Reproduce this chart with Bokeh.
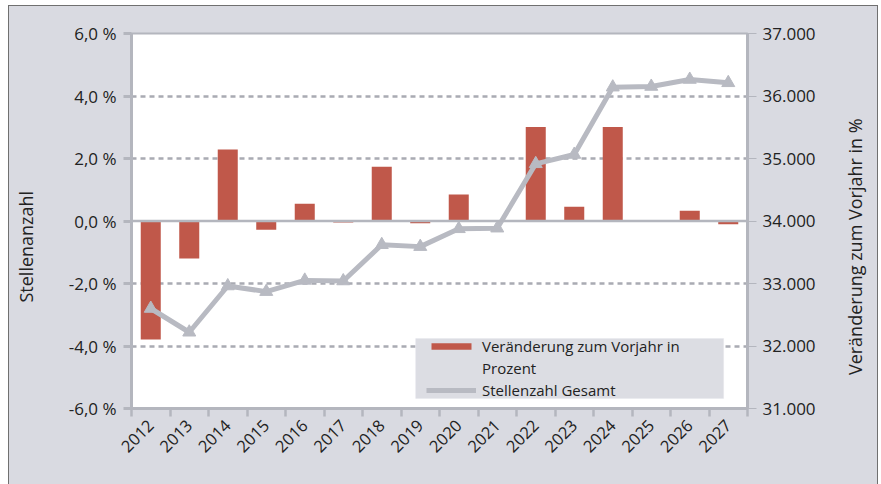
from bokeh.plotting import figure
from bokeh.models import (Range1d, LinearAxis, FixedTicker, Span, Legend, LegendItem,
                          ColumnDataSource, BoxAnnotation)
from bokeh.layouts import row
from bokeh.embed import file_html
from bokeh.resources import INLINE
import math

# ---------------- data ----------------
years = ["2012", "2013", "2014", "2015", "2016", "2017", "2018", "2019",
         "2020", "2021", "2022", "2023", "2024", "2025", "2026", "2027"]
change_pct = [-3.79, -1.20, 2.29, -0.28, 0.55, -0.05, 1.74, -0.07,
              0.85, -0.03, 3.01, 0.46, 3.01, 0.03, 0.33, -0.10]
positions_total = [32600, 32220, 32960, 32870, 33050, 33040, 33620, 33590,
                   33875, 33885, 34915, 35064, 36141, 36152, 36264, 36211]

left_ticks = [-6, -4, -2, 0, 2, 4, 6]
left_tick_labels = ["-6,0 %", "-4,0 %", "-2,0 %", "0,0 %", "2,0 %", "4,0 %", "6,0 %"]
right_ticks = [31000, 32000, 33000, 34000, 35000, 36000, 37000]
right_tick_labels = ["31.000", "32.000", "33.000", "34.000", "35.000", "36.000", "37.000"]

left_title = "Stellenanzahl"
right_title = "Veränderung zum Vorjahr in %"
bar_label_1 = "Veränderung zum Vorjahr in"
bar_label_2 = "Prozent"
line_label = "Stellenzahl Gesamt"

# ---------------- styles ----------------
BG = "#D9DAE1"
BAR = "#C0584A"
LINE = "#B8BAC2"
AXIS = "#B4B6BE"
GRID = "#A9ABB3"
TXT = "#222222"
FONT = "Open Sans"
PAD = "\u00a0" * 11   # shifts the centred axis titles slightly downwards

n = len(years)
centers = [i + 0.5 for i in range(n)]
bounds = [float(i) for i in range(n + 1)]

src = ColumnDataSource(dict(x=centers, pct=change_pct, tot=positions_total, year=years))

p = figure(width=830, height=478, output_backend="svg", toolbar_location=None,
           x_range=Range1d(0, n), y_range=Range1d(-6, 6),
           min_border_left=122, min_border_right=92, min_border_top=27,
           min_border_bottom=76, background_fill_color="white",
           border_fill_color=BG, outline_line_color=AXIS, outline_line_width=2)
p.extra_y_ranges = {"tot": Range1d(31000, 37000)}

# grid
p.xgrid.visible = False
p.ygrid.ticker = FixedTicker(ticks=[-4, -2, 2, 4])
p.ygrid.grid_line_color = GRID
p.ygrid.grid_line_width = 2.5
p.ygrid.grid_line_dash = "5 4"
p.add_layout(Span(location=0, dimension="width", line_color=AXIS, line_width=2.5))

# bars
bars = p.vbar(x="x", top="pct", bottom=0, width=0.52, source=src,
              fill_color=BAR, line_color=None)

# line
ln = p.line(x="x", y="tot", source=src, y_range_name="tot",
            line_color=LINE, line_width=5)
mk = p.scatter(x="x", y="tot", source=src, y_range_name="tot", marker="triangle",
               size=13, fill_color=LINE, line_color=LINE)
dummy = p.scatter(x=[], y=[], alpha=0)

# axes styling
def style_axis(ax, size):
    ax.major_label_text_font = FONT
    ax.major_label_text_font_size = size
    ax.major_label_text_color = TXT
    ax.axis_line_color = AXIS
    ax.axis_line_width = 3
    ax.axis_label_text_font = FONT
    ax.axis_label_text_font_size = "18px"
    ax.axis_label_text_font_style = "normal"
    ax.axis_label_text_color = TXT

xa = p.xaxis[0]
style_axis(xa, "16.5px")
xa.ticker = FixedTicker(ticks=centers, minor_ticks=bounds)
xa.major_label_overrides = {c: y for c, y in zip(centers, years)}
xa.major_tick_line_color = None
xa.minor_tick_line_color = AXIS
xa.minor_tick_line_width = 2.5
xa.minor_tick_out = 8
xa.minor_tick_in = 0
xa.major_label_orientation = math.pi / 4
xa.major_label_standoff = 6

ya = p.yaxis[0]
style_axis(ya, "17px")
ya.ticker = FixedTicker(ticks=left_ticks)
ya.major_label_overrides = {t: l for t, l in zip(left_ticks, left_tick_labels)}
ya.major_tick_line_color = AXIS
ya.major_tick_line_width = 3
ya.major_tick_out = 8
ya.major_tick_in = 0
ya.minor_tick_line_color = None
ya.major_label_standoff = 7
ya.axis_label = left_title + PAD
ya.axis_label_standoff = 28

ra = LinearAxis(y_range_name="tot")
style_axis(ra, "17px")
ra.ticker = FixedTicker(ticks=right_ticks)
ra.major_label_overrides = {t: l for t, l in zip(right_ticks, right_tick_labels)}
ra.major_tick_line_color = AXIS
ra.major_tick_line_width = 1
ra.major_tick_out = 9
ra.major_tick_in = 0
ra.minor_tick_line_color = None
ra.major_label_standoff = 6
p.add_layout(ra, "right")

# legend background box
p.add_layout(BoxAnnotation(left=7.38, right=15.38, top=-3.76, bottom=-5.68,
                           fill_color="#DCDDE3", fill_alpha=1, line_color="#E4E5EA",
                           line_width=1))

legend = Legend(items=[
    LegendItem(label=bar_label_1, renderers=[bars]),
    LegendItem(label=bar_label_2, renderers=[dummy]),
    LegendItem(label=line_label, renderers=[ln, mk]),
], location=(295, 8))
legend.background_fill_alpha = 0
legend.border_line_color = None
legend.label_text_font = FONT
legend.label_text_font_size = "15px"
legend.label_text_color = TXT
legend.glyph_width = 50
legend.glyph_height = 8
legend.label_height = 18
legend.spacing = 2
legend.margin = 0
legend.label_standoff = 6
legend.padding = 4
p.add_layout(legend, "center")

# narrow strip on the right carrying the right-hand title (reads bottom-to-top)
p2 = figure(width=38, height=478, output_backend="svg", toolbar_location=None,
            x_range=Range1d(0, 1), y_range=Range1d(0, 1),
            min_border_left=0, min_border_right=0, min_border_top=27,
            min_border_bottom=76, border_fill_color=BG, background_fill_color=BG,
            outline_line_color=None)
p2.xaxis.visible = False
p2.xgrid.visible = False
p2.ygrid.visible = False
t_ax = p2.yaxis[0]
style_axis(t_ax, "1px")
t_ax.ticker = FixedTicker(ticks=[])
t_ax.axis_line_color = None
t_ax.major_tick_line_color = None
t_ax.minor_tick_line_color = None
t_ax.major_label_standoff = 0
t_ax.axis_label = right_title + PAD
t_ax.axis_label_standoff = 4

layout = row(p, p2)
layout.styles = {"margin-left": "8px", "margin-top": "5px",
                 "border-left": "1px solid #707070", "border-right": "1px solid #707070",
                 "border-top": "1px solid #707070", "background-color": BG}

open("out.html", "w").write(file_html(layout, INLINE))
